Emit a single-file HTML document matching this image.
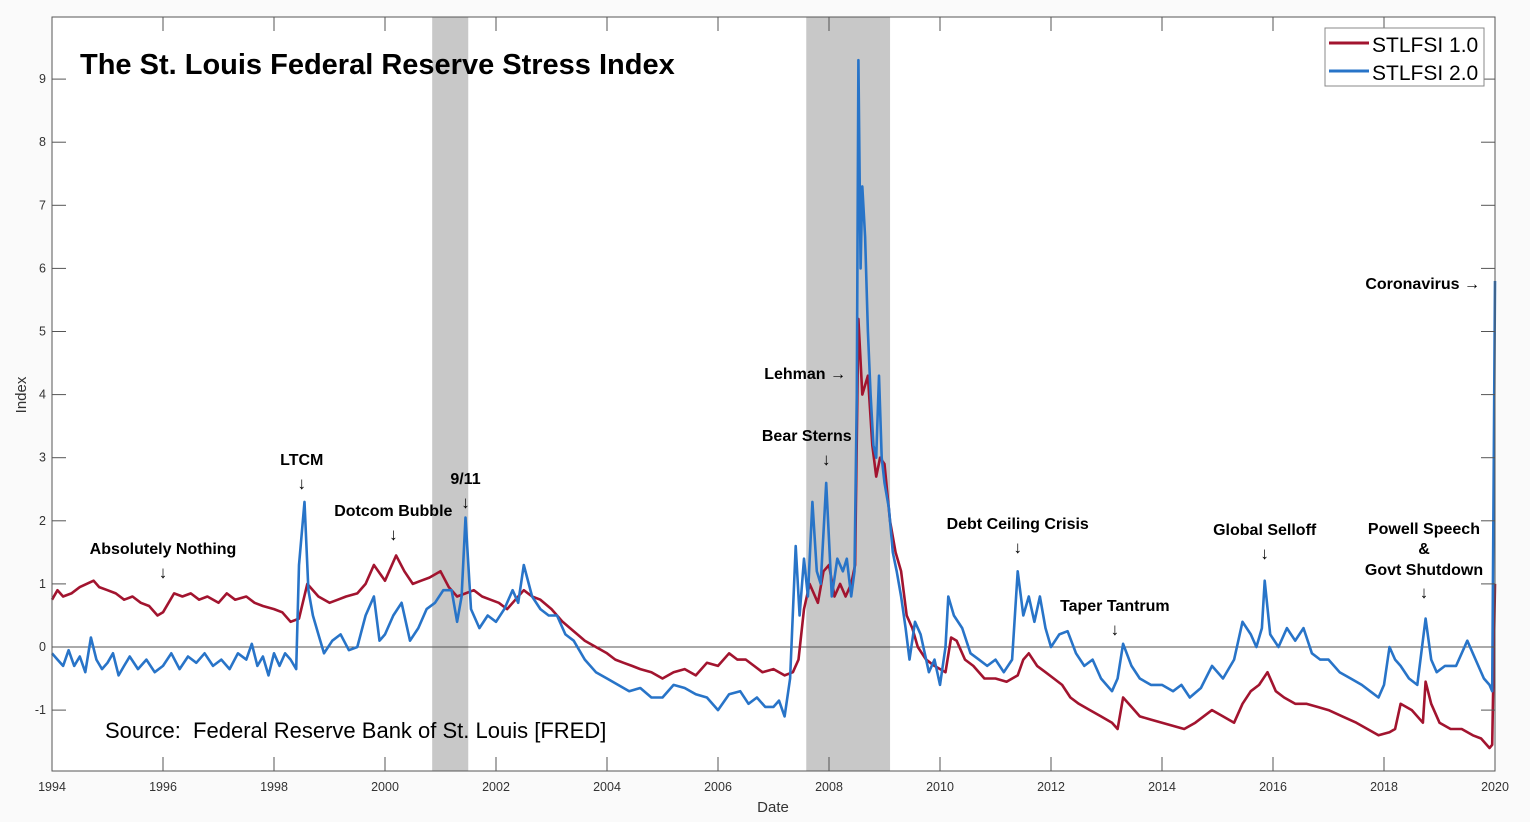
<!DOCTYPE html>
<html><head><meta charset="utf-8"><style>
html,body{margin:0;padding:0;background:#fff;width:1530px;height:822px;overflow:hidden}
svg{font-family:"Liberation Sans",Arial,sans-serif}
</style></head><body>
<svg id="chart" width="1530" height="822" xmlns="http://www.w3.org/2000/svg">
<rect x="0" y="0" width="1530" height="822" fill="#fafafa"/>
<rect x="52" y="17" width="1443" height="754" fill="#fff"/>
<g id="bands"></g><g id="grid"></g><g id="lines"></g><g id="axes"></g>
<text x="80" y="74" font-size="29" font-weight="bold">The St. Louis Federal Reserve Stress Index</text>
<text x="105" y="738" font-size="22" xml:space="preserve">Source:  Federal Reserve Bank of St. Louis [FRED]</text>
<text x="773" y="812" font-size="15" fill="#333" text-anchor="middle">Date</text>
<text x="0" y="0" font-size="15" fill="#333" text-anchor="middle" transform="translate(26,395) rotate(-90)">Index</text>
<g id="ann" font-size="16" font-weight="bold"></g>
<g>
<rect x="1325" y="28" width="159" height="58" fill="#fff" stroke="#888"/>
<line x1="1329" y1="43" x2="1369" y2="43" stroke="#a2142f" stroke-width="3"/>
<text x="1372" y="52" font-size="21">STLFSI 1.0</text>
<line x1="1329" y1="71" x2="1369" y2="71" stroke="#2874c8" stroke-width="3"/>
<text x="1372" y="80" font-size="21">STLFSI 2.0</text>
</g>
</svg>
<script>
const redDates=[1994,1994.1,1994.2,1994.35,1994.5,1994.75,1994.85,1995,1995.15,1995.3,1995.45,1995.6,1995.75,1995.9,1996,1996.2,1996.35,1996.5,1996.65,1996.8,1997,1997.15,1997.3,1997.5,1997.65,1997.8,1998,1998.15,1998.3,1998.45,1998.6,1998.8,1999,1999.15,1999.3,1999.5,1999.65,1999.8,2000,2000.2,2000.35,2000.5,2000.65,2000.8,2001,2001.15,2001.3,2001.45,2001.6,2001.75,2001.9,2002.05,2002.2,2002.35,2002.5,2002.65,2002.8,2003,2003.2,2003.4,2003.6,2003.8,2004,2004.15,2004.3,2004.45,2004.6,2004.8,2005,2005.2,2005.4,2005.6,2005.8,2006,2006.2,2006.35,2006.5,2006.65,2006.8,2007,2007.2,2007.35,2007.45,2007.55,2007.65,2007.8,2007.9,2008,2008.1,2008.2,2008.3,2008.4,2008.47,2008.53,2008.6,2008.7,2008.78,2008.85,2008.92,2009,2009.1,2009.2,2009.3,2009.4,2009.5,2009.6,2009.75,2009.9,2010.1,2010.2,2010.3,2010.45,2010.6,2010.8,2011,2011.2,2011.4,2011.5,2011.6,2011.75,2011.9,2012.05,2012.2,2012.35,2012.5,2012.7,2012.9,2013.1,2013.2,2013.3,2013.45,2013.6,2013.8,2014,2014.2,2014.4,2014.6,2014.9,2015.1,2015.3,2015.45,2015.6,2015.75,2015.9,2016.05,2016.2,2016.4,2016.6,2016.8,2017,2017.25,2017.5,2017.7,2017.9,2018.1,2018.2,2018.3,2018.5,2018.7,2018.75,2018.85,2019,2019.2,2019.4,2019.6,2019.75,2019.9,2019.95,2020];
const redVals=[0.75,0.9,0.8,0.85,0.95,1.05,0.95,0.9,0.85,0.75,0.8,0.7,0.65,0.5,0.55,0.85,0.8,0.85,0.75,0.8,0.7,0.85,0.75,0.8,0.7,0.65,0.6,0.55,0.4,0.45,1.0,0.8,0.7,0.75,0.8,0.85,1.0,1.3,1.05,1.45,1.2,1.0,1.05,1.1,1.2,0.95,0.8,0.85,0.9,0.8,0.75,0.7,0.6,0.75,0.9,0.8,0.75,0.6,0.4,0.25,0.1,0.0,-0.1,-0.2,-0.25,-0.3,-0.35,-0.4,-0.5,-0.4,-0.35,-0.45,-0.25,-0.3,-0.1,-0.2,-0.2,-0.3,-0.4,-0.35,-0.45,-0.4,-0.2,0.6,1.0,0.7,1.2,1.3,0.8,1.0,0.8,1.0,1.3,5.2,4.0,4.3,3.2,2.7,3.0,2.9,2.0,1.5,1.2,0.5,0.3,0.0,-0.2,-0.3,-0.4,0.15,0.1,-0.2,-0.3,-0.5,-0.5,-0.55,-0.45,-0.2,-0.1,-0.3,-0.4,-0.5,-0.6,-0.8,-0.9,-1.0,-1.1,-1.2,-1.3,-0.8,-0.95,-1.1,-1.15,-1.2,-1.25,-1.3,-1.2,-1.0,-1.1,-1.2,-0.9,-0.7,-0.6,-0.4,-0.7,-0.8,-0.9,-0.9,-0.95,-1.0,-1.1,-1.2,-1.3,-1.4,-1.35,-1.3,-0.9,-1.0,-1.2,-0.55,-0.9,-1.2,-1.3,-1.3,-1.4,-1.45,-1.6,-1.55,1.0];
const blueDates=[1994,1994.1,1994.2,1994.3,1994.4,1994.5,1994.6,1994.7,1994.8,1994.9,1995,1995.1,1995.2,1995.3,1995.4,1995.55,1995.7,1995.85,1996,1996.15,1996.3,1996.45,1996.6,1996.75,1996.9,1997.05,1997.2,1997.35,1997.5,1997.6,1997.7,1997.8,1997.9,1998,1998.1,1998.2,1998.3,1998.4,1998.45,1998.55,1998.62,1998.7,1998.8,1998.9,1999.05,1999.2,1999.35,1999.5,1999.65,1999.8,1999.9,2000,2000.15,2000.3,2000.45,2000.6,2000.75,2000.9,2001.05,2001.2,2001.3,2001.38,2001.45,2001.55,2001.7,2001.85,2002,2002.15,2002.3,2002.4,2002.5,2002.65,2002.8,2002.95,2003.1,2003.25,2003.4,2003.6,2003.8,2004,2004.2,2004.4,2004.6,2004.8,2005,2005.2,2005.4,2005.6,2005.8,2006,2006.2,2006.4,2006.55,2006.7,2006.85,2007,2007.1,2007.2,2007.3,2007.4,2007.47,2007.55,2007.62,2007.7,2007.78,2007.85,2007.95,2008.05,2008.15,2008.25,2008.32,2008.4,2008.46,2008.5,2008.53,2008.57,2008.6,2008.65,2008.7,2008.75,2008.8,2008.85,2008.9,2008.95,2009,2009.08,2009.15,2009.22,2009.3,2009.38,2009.45,2009.55,2009.65,2009.8,2009.9,2010,2010.1,2010.15,2010.25,2010.4,2010.55,2010.7,2010.85,2011,2011.15,2011.3,2011.4,2011.5,2011.6,2011.7,2011.8,2011.9,2012,2012.15,2012.3,2012.45,2012.6,2012.75,2012.9,2013,2013.1,2013.2,2013.3,2013.45,2013.6,2013.8,2014,2014.2,2014.35,2014.5,2014.7,2014.9,2015.1,2015.3,2015.45,2015.6,2015.7,2015.8,2015.85,2015.95,2016.1,2016.25,2016.4,2016.55,2016.7,2016.85,2017,2017.2,2017.4,2017.6,2017.75,2017.9,2018,2018.1,2018.2,2018.3,2018.45,2018.6,2018.75,2018.85,2018.95,2019.1,2019.3,2019.5,2019.65,2019.8,2019.9,2019.95,2020];
const blueVals=[-0.1,-0.2,-0.3,-0.05,-0.3,-0.15,-0.4,0.15,-0.2,-0.35,-0.25,-0.1,-0.45,-0.3,-0.15,-0.35,-0.2,-0.4,-0.3,-0.1,-0.35,-0.15,-0.25,-0.1,-0.3,-0.2,-0.35,-0.1,-0.2,0.05,-0.3,-0.15,-0.45,-0.1,-0.3,-0.1,-0.2,-0.35,1.3,2.3,0.9,0.5,0.2,-0.1,0.1,0.2,-0.05,0.0,0.5,0.8,0.1,0.2,0.5,0.7,0.1,0.3,0.6,0.7,0.9,0.9,0.4,0.8,2.05,0.6,0.3,0.5,0.4,0.6,0.9,0.7,1.3,0.8,0.6,0.5,0.5,0.2,0.1,-0.2,-0.4,-0.5,-0.6,-0.7,-0.65,-0.8,-0.8,-0.6,-0.65,-0.75,-0.8,-1.0,-0.75,-0.7,-0.9,-0.8,-0.95,-0.95,-0.85,-1.1,-0.5,1.6,0.5,1.4,0.8,2.3,1.2,1.0,2.6,0.8,1.4,1.2,1.4,0.8,1.2,4.0,9.3,6.0,7.3,6.5,5.0,4.0,3.2,3.0,4.3,3.0,2.6,2.2,1.5,1.2,0.8,0.3,-0.2,0.4,0.2,-0.4,-0.2,-0.6,0.0,0.8,0.5,0.3,-0.1,-0.2,-0.3,-0.2,-0.4,-0.2,1.2,0.5,0.8,0.4,0.8,0.3,0.0,0.2,0.25,-0.1,-0.3,-0.2,-0.5,-0.6,-0.7,-0.5,0.05,-0.3,-0.5,-0.6,-0.6,-0.7,-0.6,-0.8,-0.65,-0.3,-0.5,-0.2,0.4,0.2,0.0,0.3,1.05,0.2,0.0,0.3,0.1,0.3,-0.1,-0.2,-0.2,-0.4,-0.5,-0.6,-0.7,-0.8,-0.6,0.0,-0.2,-0.3,-0.5,-0.6,0.45,-0.2,-0.4,-0.3,-0.3,0.1,-0.2,-0.5,-0.6,-0.7,5.8];
const xTicks=[1994,1996,1998,2000,2002,2004,2006,2008,2010,2012,2014,2016,2018,2020];
const yTicks=[-1,0,1,2,3,4,5,6,7,8,9];
const recessions=[[2000.85,2001.5],[2007.59,2009.1]];
const annotations=[["Absolutely Nothing",1996,549,1996],["LTCM",1998.5,460,1998.5],["Dotcom Bubble",2000.15,511,2000.15],["9/11",2001.45,479,2001.45],["Bear Sterns",2007.6,436,2007.95],["Debt Ceiling Crisis",2011.4,524,2011.4],["Taper Tantrum",2013.15,606,2013.15],["Global Selloff",2015.85,530,2015.85],["Powell Speech",2018.72,529,null]];
const NS="http://www.w3.org/2000/svg";
const X=d=>52+(d-1994)*(1443/26);
const Y=v=>647-v*63.1;
function mk(tag,attrs,parent){const e=document.createElementNS(NS,tag);for(const k in attrs)e.setAttribute(k,attrs[k]);document.getElementById(parent).appendChild(e);return e;}
recessions.forEach(r=>{const e=mk('rect',{x:X(r[0]),y:17,width:X(r[1])-X(r[0]),height:754,fill:'#c8c8c8'},'bands');

});
const z=mk('line',{x1:52,x2:1495,y1:Y(0),y2:Y(0),stroke:'#555','stroke-width':1},'grid');


function series(d,v,color,name){const p=d.map((x,i)=>(i?'L':'M')+X(x).toFixed(1)+','+Y(v[i]).toFixed(1)).join('');
const e=mk('path',{d:p,fill:'none',stroke:color,'stroke-width':2.6,'stroke-linejoin':'round'},'lines');

}
series(redDates,redVals,'#a2142f','line-stlfsi1');
series(blueDates,blueVals,'#2874c8','line-stlfsi2');
const box=mk('rect',{x:52,y:17,width:1443,height:754,fill:'none',stroke:'#555','stroke-width':1},'axes');


xTicks.forEach(t=>{const x=X(t);
mk('line',{x1:x,x2:x,y1:771,y2:757,stroke:'#555'},'axes');
mk('line',{x1:x,x2:x,y1:17,y2:31,stroke:'#555'},'axes');
const e=mk('text',{x:x,y:791,'font-size':12.5,fill:'#333','text-anchor':'middle'},'axes');e.textContent=t;

});
yTicks.forEach(t=>{const y=Y(t);
mk('line',{x1:52,x2:66,y1:y,y2:y,stroke:'#555'},'axes');
mk('line',{x1:1495,x2:1481,y1:y,y2:y,stroke:'#555'},'axes');
const e=mk('text',{x:46,y:y+4,'font-size':12.5,fill:'#333','text-anchor':'end'},'axes');e.textContent=t;

});
annotations.forEach(a=>{const x=X(a[1]);
const e=mk('text',{x:x,y:a[2]+5,'text-anchor':'middle'},'ann');e.textContent=a[0];


if(a[3]!==null){const ar=mk('text',{x:X(a[3]),y:a[2]+29,'text-anchor':'middle','font-weight':'normal','font-size':17},'ann');ar.textContent='↓';

}});
function txt(s,x,y,anchor,fw,fs){const e=mk('text',{x:x,y:y,'text-anchor':anchor,'font-weight':fw,'font-size':fs},'ann');e.textContent=s;

}
txt('&',1424,554,'middle','bold',16);
txt('Govt Shutdown',1424,575,'middle','bold',16);
txt('↓',1424,598,'middle','normal',17);
txt('Lehman →',846,379,'end','bold',16);
txt('Coronavirus →',1480,289,'end','bold',16);
</script>
</body></html>
